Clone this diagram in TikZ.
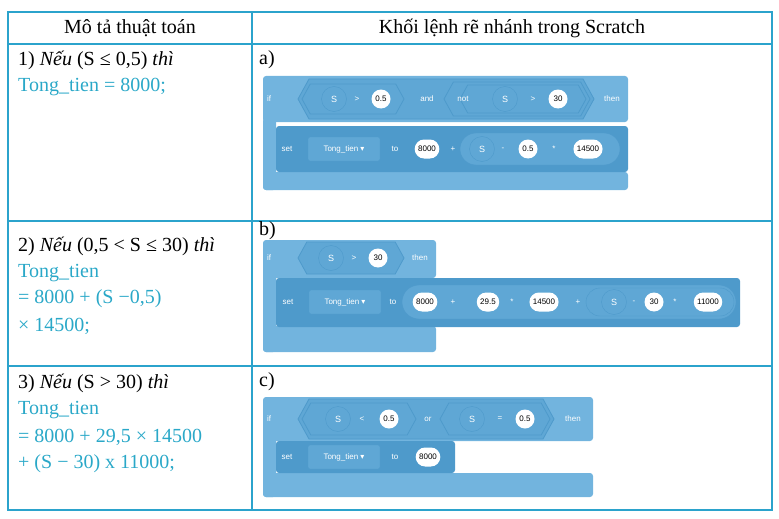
\documentclass[tikz,border=0pt]{standalone}
\usepackage{fontspec}
\setmainfont{Liberation Serif}
\newfontfamily\blockfont{Liberation Sans}
\newfontfamily\symfont{DejaVu Sans}
\usetikzlibrary{shapes.misc}
\definecolor{frame}{HTML}{2BA3CC}
\definecolor{teal}{HTML}{2AA8C8}
\definecolor{blkout}{HTML}{72B4DE}
\definecolor{blkin}{HTML}{4E9ACB}
\definecolor{blkhex}{HTML}{5FA7D5}
\newcommand{\hexa}[4]{% x1 x2 yc halfheight
  \fill[blkhex, draw=blkin, line width=0.8pt] (#1,#3) -- ++(#4*0.55,-#4) -- (#2-#4*0.55,#3-#4) -- (#2,#3) -- (#2-#4*0.55,#3+#4) -- (#1+#4*0.55,#3+#4) -- cycle;}
\newcommand{\drop}{{\symfont ▾}}
\begin{document}
\begin{tikzpicture}[x=1pt,y=-1pt]

      \tikzset{cell/.style={font=\fontsize{20}{20}\selectfont, anchor=west, inner sep=0pt},
               info/.style={cell, text=teal},
               word/.style={font=\blockfont\fontsize{8}{8}\selectfont, text=white, inner sep=0pt},
               oval/.style={rounded rectangle, fill=white, minimum height=19pt, inner sep=3pt, font=\blockfont\fontsize{8}{8}\selectfont},
               sval/.style={circle, fill=blkhex, draw=blkin, minimum size=25pt, inner sep=0pt, font=\blockfont\fontsize{9}{9}\selectfont, text=white},
               menu/.style={draw=blkin, fill=blkhex, rounded corners=2pt, minimum height=24pt, minimum width=72pt, inner sep=3pt, font=\blockfont\fontsize{8}{8}\selectfont, text=white}}
      \useasboundingbox (0,0) rectangle (779,519);
%% Table
      \draw[frame, line width=1.6pt] (8,12) rectangle (772,510);
      \draw[frame, line width=1.6pt] (252,12) -- (252,510);
      \foreach \y in {44,221,366} \draw[frame, line width=1.6pt] (8,\y) -- (772,\y);
      \node[cell, anchor=center] (h1) at (130,28) {Mô tả thuật toán};
      \node[cell, anchor=center] (h2) at (512,28) {Khối lệnh rẽ nhánh trong Scratch};
%% Left column
      \node[cell] (r1a) at (18,60) {1) \textit{Nếu} (S ≤ 0,5) \textit{thì}};
      \node[info] (r1b) at (18,87) {Tong\_tien = 8000;};
      \node[cell] (r2a) at (18,246) {2) \textit{Nếu} (0,5 < S ≤ 30) \textit{thì}};
      \node[info] (r2b) at (18,273) {Tong\_tien};
      \node[info] (r2c) at (18,299) {= 8000 + (S −0,5)};
      \node[info] (r2d) at (18,326) {× 14500;};
      \node[cell] (r3a) at (18,383) {3) \textit{Nếu} (S > 30) \textit{thì}};
      \node[info] (r3b) at (18,410) {Tong\_tien};
      \node[info] (r3c) at (18,437) {= 8000 + 29,5 × 14500};
      \node[info] (r3d) at (18,464) {+ (S − 30) x 11000;};
      \node[cell] (la) at (259,60) {a)};
      \node[cell] (lb) at (259,231) {b)};
      \node[cell] (lc) at (259,382) {c)};
%% Block a
      \fill[blkout, rounded corners=3pt] (263,76) rectangle (628,122);
      \fill[blkout, rounded corners=3pt] (263,118) rectangle (276,190);
      \fill[blkout, rounded corners=3pt] (263,172) rectangle (628,190);
      \fill[blkin, rounded corners=3pt] (276,126) rectangle (628,172);
      \hexa{298}{594}{99}{20}
      \hexa{302}{404}{99}{15}
      \hexa{444}{590}{99}{17}
      \hexa{460}{586}{99}{14}
      \node[word] (ifa) at (269,99) {if};
      \node[sval] (sa1) at (334,99) {S};
      \node[word] (gta1) at (357,99) {>};
      \node[oval] (va1) at (381,99) {0.5};
      \node[word] (anda) at (427,99) {and};
      \node[word] (nota) at (463,99) {not};
      \node[sval] (sa2) at (505,99) {S};
      \node[word] (gta2) at (533,99) {>};
      \node[oval] (va2) at (558,99) {30};
      \node[word] (thena) at (612,99) {then};
      \node[word] (seta) at (287,149) {set};
      \node[menu] (ma) at (344,149) {Tong\_tien \drop};
      \node[word] (toa) at (395,149) {to};
      \fill[blkhex, draw=blkin, rounded corners=16pt] (460,133) rectangle (620,165);
      \node[oval] (va3) at (427,149) {8000};
      \node[word] (pa) at (453,149) {+};
      \node[sval] (sa3) at (482,149) {S};
      \node[word] (ma1) at (503,149) {-};
      \node[oval] (va4) at (528,149) {0.5};
      \node[word] (mu1) at (554,149) {*};
      \node[oval] (va5) at (588,149) {14500};
%% Block b
      \fill[blkout, rounded corners=3pt] (263,240) rectangle (436,278);
      \fill[blkout, rounded corners=3pt] (263,270) rectangle (276,352);
      \fill[blkout, rounded corners=3pt] (263,326) rectangle (436,352);
      \fill[blkin, rounded corners=3pt] (276,278) rectangle (740,327);
      \hexa{298}{404}{258}{16}
      \node[word] (ifb) at (269,258) {if};
      \node[sval] (sb1) at (331,258) {S};
      \node[word] (gtb) at (354,258) {>};
      \node[oval] (vb1) at (378,258) {30};
      \node[word] (thenb) at (420,258) {then};
      \node[word] (setb) at (288,302) {set};
      \node[menu] (mb) at (345,302) {Tong\_tien \drop};
      \node[word] (tob) at (393,302) {to};
      \fill[blkhex, draw=blkin, rounded corners=17pt] (402,285) rectangle (736,319);
      \node[oval] (vb2) at (425,302) {8000};
      \node[word] (pb1) at (453,302) {+};
      \fill[blkhex, draw=blkin, rounded corners=14pt] (586,288) rectangle (734,316);
      \node[oval] (vb3) at (488,302) {29.5};
      \node[word] (mb1) at (512,302) {*};
      \node[oval] (vb4) at (544,302) {14500};
      \node[word] (pb2) at (578,302) {+};
      \node[sval] (sb2) at (614,302) {S};
      \node[word] (mb2) at (634,302) {-};
      \node[oval] (vb5) at (654,302) {30};
      \node[word] (mb3) at (675,302) {*};
      \node[oval] (vb6) at (708,302) {11000};
%% Block c
      \fill[blkout, rounded corners=3pt] (263,397) rectangle (593,441);
      \fill[blkout, rounded corners=3pt] (263,435) rectangle (276,497);
      \fill[blkout, rounded corners=3pt] (263,473) rectangle (593,497);
      \fill[blkin, rounded corners=3pt] (276,441) rectangle (455,473);
      \hexa{298}{554}{419}{20}
      \hexa{302}{416}{419}{16}
      \hexa{440}{550}{419}{16}
      \node[word] (ifc) at (269,419) {if};
      \node[sval] (sc1) at (338,419) {S};
      \node[word] (ltc) at (362,419) {<};
      \node[oval] (vc1) at (389,419) {0.5};
      \node[word] (orc) at (428,419) {or};
      \node[sval] (sc2) at (472,419) {S};
      \node[word] (eqc) at (500,419) {=};
      \node[oval] (vc2) at (525,419) {0.5};
      \node[word] (thenc) at (573,419) {then};
      \node[word] (setc) at (287,457) {set};
      \node[menu] (mc) at (344,457) {Tong\_tien \drop};
      \node[word] (toc) at (395,457) {to};
      \node[oval] (vc3) at (428,457) {8000};

	\end{tikzpicture}
\end{document}
